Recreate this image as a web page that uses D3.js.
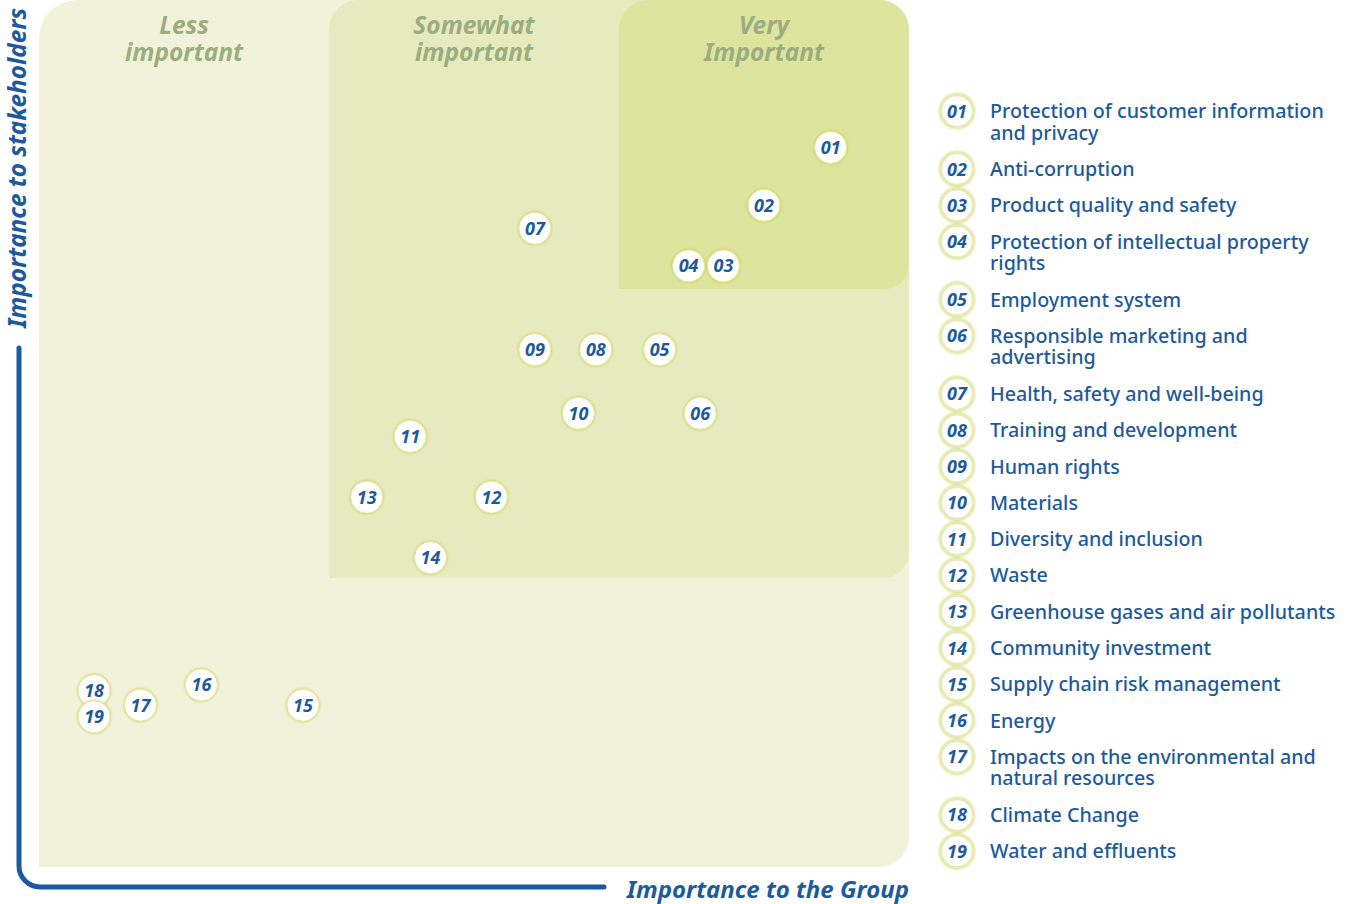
<!DOCTYPE html>
<html>
<head>
<meta charset="utf-8">
<script src="https://cdn.jsdelivr.net/npm/d3@7"></script>
<style>
  body { margin: 0; background: #fff; }
  svg { display: block; font-family: "Noto Sans", sans-serif; }
</style>
</head>
<body>
<div id="chart"></div>
<script>
// topic ids, names (legend lines), and position on the matrix
var ids = ["01","02","03","04","05","06","07","08","09","10","11","12","13","14","15","16","17","18","19"];
var names = [
  ["Protection of customer information", "and privacy"],
  ["Anti-corruption"],
  ["Product quality and safety"],
  ["Protection of intellectual property", "rights"],
  ["Employment system"],
  ["Responsible marketing and", "advertising"],
  ["Health, safety and well-being"],
  ["Training and development"],
  ["Human rights"],
  ["Materials"],
  ["Diversity and inclusion"],
  ["Waste"],
  ["Greenhouse gases and air pollutants"],
  ["Community investment"],
  ["Supply chain risk management"],
  ["Energy"],
  ["Impacts on the environmental and", "natural resources"],
  ["Climate Change"],
  ["Water and effluents"]
];
// importance to the Group (x) and to stakeholders (y), 0-30 scale
var groupScore = [27.3, 25.0, 23.6, 22.4, 21.4, 22.8, 17.1, 19.2, 17.1, 18.6, 12.8, 15.6, 11.3, 13.5, 9.1, 5.6, 3.5, 1.9, 1.9];
var stakeScore = [24.9, 22.9, 20.8, 20.8, 17.9, 15.7, 22.1, 17.9, 17.9, 15.7, 14.9, 12.8, 12.8, 10.7, 5.6, 6.3, 5.6, 6.1, 5.2];

var zoneTitles = [["Less", "important"], ["Somewhat", "important"], ["Very", "Important"]];

var W = 1349, H = 904;
var blue = "#1d5a9c";

var svg = d3.select("#chart").append("svg")
  .attr("width", W).attr("height", H);

var defs = svg.append("defs");
var glow = defs.append("filter").attr("id", "glow")
  .attr("x", "-50%").attr("y", "-50%").attr("width", "200%").attr("height", "200%");
glow.append("feDropShadow").attr("dx", 0).attr("dy", 0)
  .attr("stdDeviation", 1.6).attr("flood-color", "#c3c935").attr("flood-opacity", 1);

var x = d3.scaleLinear().domain([0, 30]).range([39, 909]);
var y = d3.scaleLinear().domain([0, 30]).range([867, 0]);

// rounded rect with per-corner radii [tl, tr, br, bl]
function roundRect(x0, y0, x1, y1, r) {
  var p = d3.path();
  p.moveTo(x0 + r[0], y0);
  p.lineTo(x1 - r[1], y0);
  if (r[1]) p.arcTo(x1, y0, x1, y0 + r[1], r[1]);
  p.lineTo(x1, y1 - r[2]);
  if (r[2]) p.arcTo(x1, y1, x1 - r[2], y1, r[2]);
  p.lineTo(x0 + r[3], y1);
  if (r[3]) p.arcTo(x0, y1, x0, y1 - r[3], r[3]);
  p.lineTo(x0, y0 + r[0]);
  if (r[0]) p.arcTo(x0, y0, x0 + r[0], y0, r[0]);
  p.closePath();
  return p.toString();
}

var zones = [
  {lo: 0, fill: "#f0f3da", r: [38, 30, 30, 0]},
  {lo: 10, fill: "#e6ebbf", r: [30, 30, 26, 0]},
  {lo: 20, fill: "#dde49d", r: [30, 30, 24, 0]}
];
svg.selectAll("path.zone").data(zones).enter().append("path")
  .attr("class", "zone")
  .attr("fill", function(d) { return d.fill; })
  .attr("d", function(d) { return roundRect(x(d.lo), y(30), x(30), y(d.lo), d.r); });

// zone titles
zoneTitles.forEach(function(t, i) {
  var tx = (x(i * 10) + x(i * 10 + 10)) / 2;
  var txt = svg.append("text")
    .attr("text-anchor", "middle")
    .attr("fill", "#9cad80")
    .attr("font-size", 24.5).attr("font-weight", "bold").attr("font-style", "italic");
  t.forEach(function(line, j) {
    txt.append("tspan").attr("x", tx).attr("y", 34 + j * 27).text(line);
  });
});

// axis L-line
var axisPath = d3.path();
axisPath.moveTo(19, 348);
axisPath.lineTo(19, 866);
axisPath.arcTo(19, 887, 40, 887, 21);
axisPath.lineTo(604, 887);
svg.append("path").attr("d", axisPath.toString())
  .attr("fill", "none").attr("stroke", blue)
  .attr("stroke-width", 5).attr("stroke-linecap", "round");

svg.append("text")
  .attr("transform", "translate(26,328) rotate(-90)")
  .attr("fill", blue).attr("font-size", 24.3)
  .attr("font-weight", "bold").attr("font-style", "italic")
  .text("Importance to stakeholders");

svg.append("text")
  .attr("x", 909).attr("y", 898).attr("text-anchor", "end")
  .attr("fill", blue).attr("font-size", 24)
  .attr("font-weight", "bold").attr("font-style", "italic")
  .text("Importance to the Group");

// points
var pts = ids.map(function(id, i) { return {id: id, gx: groupScore[i], sy: stakeScore[i]}; });
var pg = svg.selectAll("g.pt").data(pts).enter().append("g")
  .attr("class", "pt")
  .attr("transform", function(d) { return "translate(" + x(d.gx) + "," + y(d.sy) + ")"; });
pg.append("circle").attr("r", 16)
  .attr("fill", "#fff").attr("stroke", "#e4e7a0").attr("stroke-width", 1)
  .attr("filter", "url(#glow)");
pg.append("text").attr("text-anchor", "middle").attr("y", 6.5)
  .attr("fill", blue).attr("font-size", 18)
  .attr("font-weight", "bold").attr("font-style", "italic")
  .text(function(d) { return d.id; });

// legend
var step = 36.3, extra = 21.7, ly = 111;
var legend = svg.append("g");
ids.forEach(function(id, i) {
  var g = legend.append("g").attr("transform", "translate(0," + ly + ")");
  g.append("circle").attr("cx", 957).attr("r", 16)
    .attr("fill", "#fff").attr("stroke", "#e8ebb4").attr("stroke-width", 2.5)
    .attr("filter", "url(#glow)");
  g.append("text").attr("x", 957).attr("text-anchor", "middle").attr("y", 6.5)
    .attr("fill", blue).attr("font-size", 18)
    .attr("font-weight", "bold").attr("font-style", "italic")
    .text(id);
  var t = g.append("text")
    .attr("fill", blue).attr("font-size", 19.7).attr("font-weight", 500);
  names[i].forEach(function(line, j) {
    t.append("tspan").attr("x", 990).attr("y", 7 + j * 21.5).text(line);
  });
  ly += step + extra * (names[i].length - 1);
});
</script>
</body>
</html>
